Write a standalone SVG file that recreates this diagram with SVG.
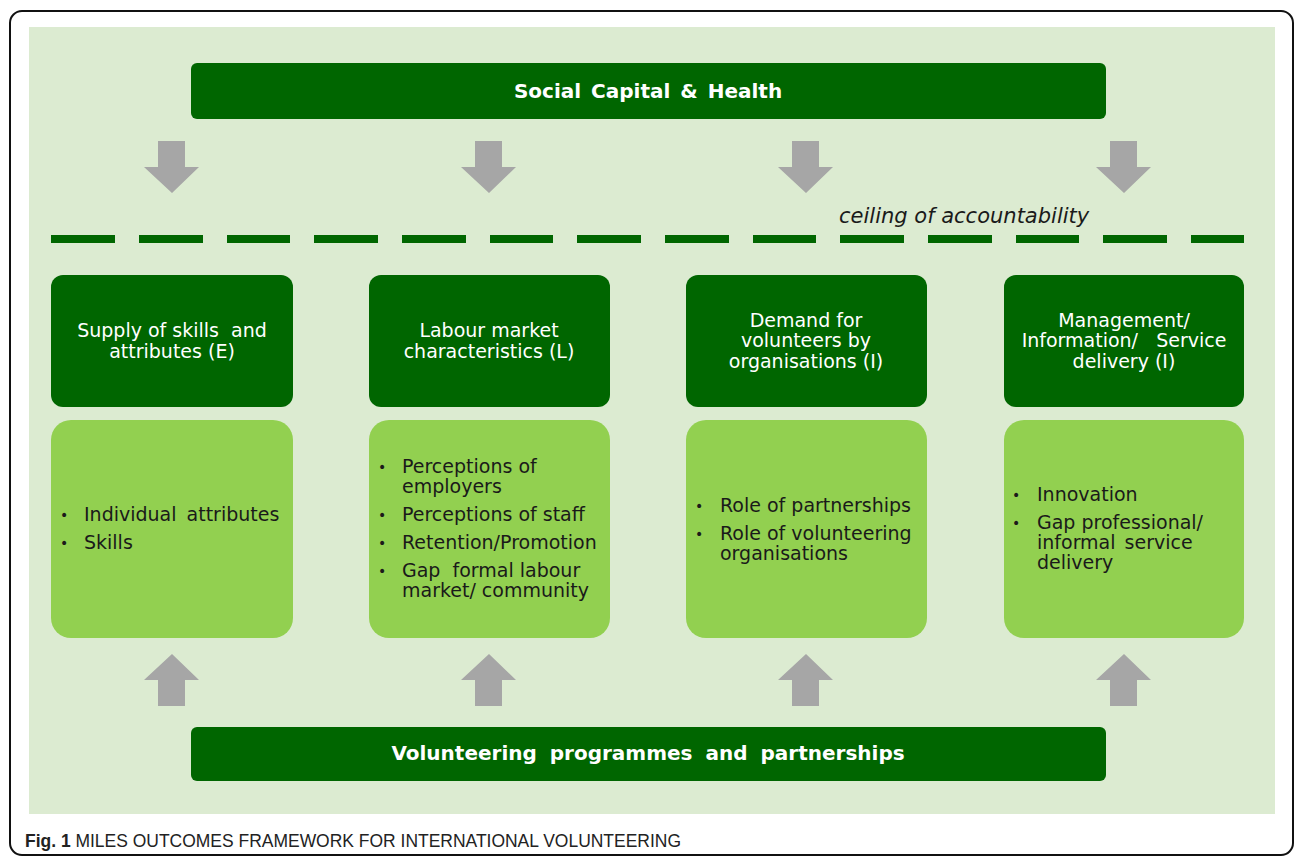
<svg xmlns="http://www.w3.org/2000/svg" width="1296" height="858" viewBox="0 0 1296 858">
<defs>
<style>
.dark{fill:#006600}
.light{fill:#92d050}
.arrow{fill:#a6a6a6}
.dash{fill:#006600}
.hd{font-family:"DejaVu Sans",Verdana,sans-serif;font-size:19px;fill:#ffffff;text-anchor:middle}
.bar{font-family:"DejaVu Sans",Verdana,sans-serif;font-size:20px;font-weight:bold;fill:#ffffff;text-anchor:middle}
.item{font-family:"DejaVu Sans",Verdana,sans-serif;font-size:19px;fill:#1a1a1a}
.bul{font-family:"DejaVu Sans",Verdana,sans-serif;font-size:14px;fill:#1a1a1a}
.ceil{font-family:"DejaVu Sans",Verdana,sans-serif;font-size:21px;font-style:italic;fill:#1a1a1a}
.cap{font-family:"Liberation Sans Narrow","Liberation Sans",sans-serif;font-size:19px;fill:#222}
</style>
<path id="down" d="M-14,0 H13 V26 H27 L0,52 L-28,26 H-14 Z"/>
<path id="up" d="M-14,52 H13 V26 H27 L0,0 L-28,26 H-14 Z"/>
</defs>
<rect x="0" y="0" width="1296" height="858" fill="#ffffff"/>
<rect x="10" y="11" width="1283" height="844" rx="12" fill="none" stroke="#111" stroke-width="2"/>
<rect x="29" y="27" width="1246" height="787" fill="#dcebd1"/>

<g id="top-bar">
<rect x="191" y="63" width="915" height="56" rx="6" class="dark"/>
<text x="648" y="98" class="bar" word-spacing="3">Social Capital &amp; Health</text>
</g>

<g id="connectors">
<use href="#down" x="172" y="141" class="arrow"/>
<use href="#down" x="489" y="141" class="arrow"/>
<use href="#down" x="806" y="141" class="arrow"/>
<use href="#down" x="1124" y="141" class="arrow"/>
<use href="#up" x="172" y="654" class="arrow"/>
<use href="#up" x="489" y="654" class="arrow"/>
<use href="#up" x="806" y="654" class="arrow"/>
<use href="#up" x="1124" y="654" class="arrow"/>
</g>

<g id="ceiling">
<text x="839" y="223" class="ceil">ceiling of accountability</text>
<rect x="51" y="235" width="64" height="8" class="dash"/>
<rect x="139" y="235" width="64" height="8" class="dash"/>
<rect x="227" y="235" width="63" height="8" class="dash"/>
<rect x="314" y="235" width="64" height="8" class="dash"/>
<rect x="402" y="235" width="64" height="8" class="dash"/>
<rect x="490" y="235" width="63" height="8" class="dash"/>
<rect x="577" y="235" width="64" height="8" class="dash"/>
<rect x="665" y="235" width="64" height="8" class="dash"/>
<rect x="753" y="235" width="63" height="8" class="dash"/>
<rect x="840" y="235" width="64" height="8" class="dash"/>
<rect x="928" y="235" width="64" height="8" class="dash"/>
<rect x="1016" y="235" width="63" height="8" class="dash"/>
<rect x="1103" y="235" width="64" height="8" class="dash"/>
<rect x="1191" y="235" width="53" height="8" class="dash"/>
</g>

<g id="supply">
<rect x="51" y="275" width="242" height="132" rx="12" class="dark"/>
<text x="172" y="337" class="hd" xml:space="preserve">Supply of skills  and</text>
<text x="172" y="358" class="hd">attributes (E)</text>
</g>
<g id="labour">
<rect x="369" y="275" width="241" height="132" rx="12" class="dark"/>
<text x="489" y="337" class="hd">Labour market</text>
<text x="489" y="358" class="hd">characteristics (L)</text>
</g>
<g id="demand">
<rect x="686" y="275" width="241" height="132" rx="12" class="dark"/>
<text x="806" y="327" class="hd">Demand for</text>
<text x="806" y="347" class="hd">volunteers by</text>
<text x="806" y="368" class="hd">organisations (I)</text>
</g>
<g id="management">
<rect x="1004" y="275" width="240" height="132" rx="12" class="dark"/>
<text x="1124" y="327" class="hd">Management/</text>
<text x="1124" y="347" class="hd" xml:space="preserve">Information/   Service</text>
<text x="1124" y="368" class="hd">delivery (I)</text>
</g>

<g id="supply-items">
<rect x="51" y="420" width="242" height="218" rx="20" class="light"/>
<text x="60" y="520" class="bul">•</text><text x="84" y="521" class="item" word-spacing="4">Individual attributes</text>
<text x="60" y="548" class="bul">•</text><text x="84" y="549" class="item">Skills</text>
</g>
<g id="labour-items">
<rect x="369" y="420" width="241" height="218" rx="20" class="light"/>
<text x="378" y="472" class="bul">•</text><text x="402" y="473" class="item">Perceptions of</text>
<text x="402" y="493" class="item">employers</text>
<text x="378" y="520" class="bul">•</text><text x="402" y="521" class="item">Perceptions of staff</text>
<text x="378" y="548" class="bul">•</text><text x="402" y="549" class="item">Retention/Promotion</text>
<text x="378" y="576" class="bul">•</text><text x="402" y="577" class="item" xml:space="preserve">Gap  formal labour</text>
<text x="402" y="597" class="item">market/ community</text>
</g>
<g id="demand-items">
<rect x="686" y="420" width="241" height="218" rx="20" class="light"/>
<text x="695" y="511" class="bul">•</text><text x="720" y="512" class="item">Role of partnerships</text>
<text x="695" y="539" class="bul">•</text><text x="720" y="540" class="item">Role of volunteering</text>
<text x="720" y="560" class="item">organisations</text>
</g>
<g id="management-items">
<rect x="1004" y="420" width="240" height="218" rx="20" class="light"/>
<text x="1012" y="500" class="bul">•</text><text x="1037" y="501" class="item">Innovation</text>
<text x="1012" y="528" class="bul">•</text><text x="1037" y="529" class="item">Gap professional/</text>
<text x="1037" y="549" class="item" word-spacing="3">informal service</text>
<text x="1037" y="569" class="item">delivery</text>
</g>

<g id="bottom-bar">
<rect x="191" y="727" width="915" height="54" rx="6" class="dark"/>
<text x="648" y="760" class="bar" word-spacing="6">Volunteering programmes and partnerships</text>
</g>

<g id="caption">
<text x="25" y="847" class="cap" textLength="656" lengthAdjust="spacingAndGlyphs"><tspan font-weight="bold">Fig. 1</tspan> MILES OUTCOMES FRAMEWORK FOR INTERNATIONAL VOLUNTEERING</text>
</g>
</svg>
